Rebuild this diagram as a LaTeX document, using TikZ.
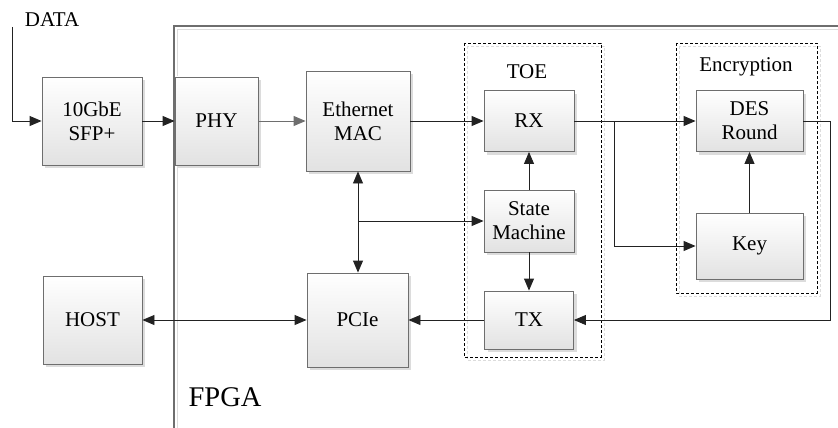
\documentclass[tikz,border=0pt]{standalone}
\usepackage{fontspec}
\setmainfont{Liberation Serif}
\usetikzlibrary{arrows.meta,shadows,calc}
\definecolor{boxline}{HTML}{6E6E6E}
\definecolor{boxbot}{HTML}{E2E2E2}
\definecolor{shadowgray}{HTML}{DCDCDC}
\definecolor{wire}{HTML}{222222}
\tikzset{
  tip/.tip={Triangle[length=12pt,width=10pt]},
  blk/.style={draw=boxline, line width=0.9pt, top color=white, bottom color=boxbot,
    drop shadow={shadow xshift=3pt, shadow yshift=-3pt, fill=shadowgray, opacity=1},
    align=center, inner sep=0pt, font=\fontsize{21}{24}\selectfont},
  wirearrow/.style={draw=wire, line width=0.9pt, -tip},
  wirebi/.style={draw=wire, line width=0.9pt, tip-tip},
  dashbox/.style={draw=black, line width=0.8pt, dash pattern=on 3pt off 2pt},
  dashshadow/.style={draw=shadowgray, line width=0.8pt, dash pattern=on 3pt off 2pt},
  lbl/.style={font=\fontsize{21}{24}\selectfont, inner sep=0pt}
}
\begin{document}
\begin{tikzpicture}[x=1pt,y=-1pt]
\useasboundingbox (0,0) rectangle (838,428);
% FPGA frame
\draw[shadowgray, line width=1pt] (177.5,428) -- (177.5,29.5) -- (838,29.5);
\draw[boxline, line width=1.2pt] (174,428) -- (174,26) -- (838,26);
\node[inner sep=0pt, font=\fontsize{28.5}{32}\selectfont] (fpga) at (225,397) {FPGA};
% dashed groups
\draw[dashshadow] (467,46) rectangle (604,360);
\draw[dashbox] (464,43) rectangle (601,357);
\draw[dashshadow] (679,46) rectangle (820,296);
\draw[dashbox] (676,43) rectangle (817,293);
\node[lbl] (toe) at (527,72) {TOE};
\node[lbl] (enc) at (746,67) {Encryption};
% blocks
\node[blk, minimum width=100pt, minimum height=88pt] (sfp) at (92,121) {10GbE\\SFP+};
\node[blk, minimum width=83pt, minimum height=88pt] (phy) at (216.5,121) {PHY};
\node[blk, minimum width=104pt, minimum height=100pt] (mac) at (358,121) {Ethernet\\MAC};
\node[blk, minimum width=90pt, minimum height=61pt] (rx) at (529,121) {RX};
\node[blk, minimum width=90pt, minimum height=62pt] (sm) at (529,221) {State\\Machine};
\node[blk, minimum width=89pt, minimum height=58pt] (tx) at (529,320) {TX};
\node[blk, minimum width=107pt, minimum height=61pt] (des) at (749.5,121) {DES\\Round};
\node[blk, minimum width=107pt, minimum height=66pt] (key) at (749.5,246) {Key};
\node[blk, minimum width=101pt, minimum height=94pt] (pcie) at (357.5,320) {PCIe};
\node[blk, minimum width=99pt, minimum height=88pt] (host) at (92.5,320) {HOST};
% DATA input
\node[lbl] (data) at (52,20) {DATA};
\coordinate (din) at (12,27);
\draw[wirearrow] (din) |- (sfp.west);
% connectors
\draw[wirearrow] (sfp) -- (phy);
\draw[draw=boxline, line width=0.9pt, -tip] (phy) -- (mac);
\draw[wirearrow] (mac) -- (rx);
\draw[wirearrow] (rx) -- (des);
\coordinate (br) at (614,121);
\draw[wirearrow] (br) |- (key.west);
\draw[wirearrow] (key) -- (des);
\coordinate (lpa) at (830,121);
\draw[wirearrow] (des.east) -- (lpa) |- (tx.east);
\draw[wirearrow] (tx) -- (pcie);
\draw[wirebi] (host) -- (pcie);
\draw[wirebi] (mac.south) -- (mac.south |- pcie.north);
\coordinate (br2) at (mac.south |- sm.west);
\draw[wirearrow] (br2) -- (sm.west);
\draw[wirearrow] (sm) -- (rx);
\draw[wirearrow] (sm) -- (tx);
\end{tikzpicture}
\end{document}
